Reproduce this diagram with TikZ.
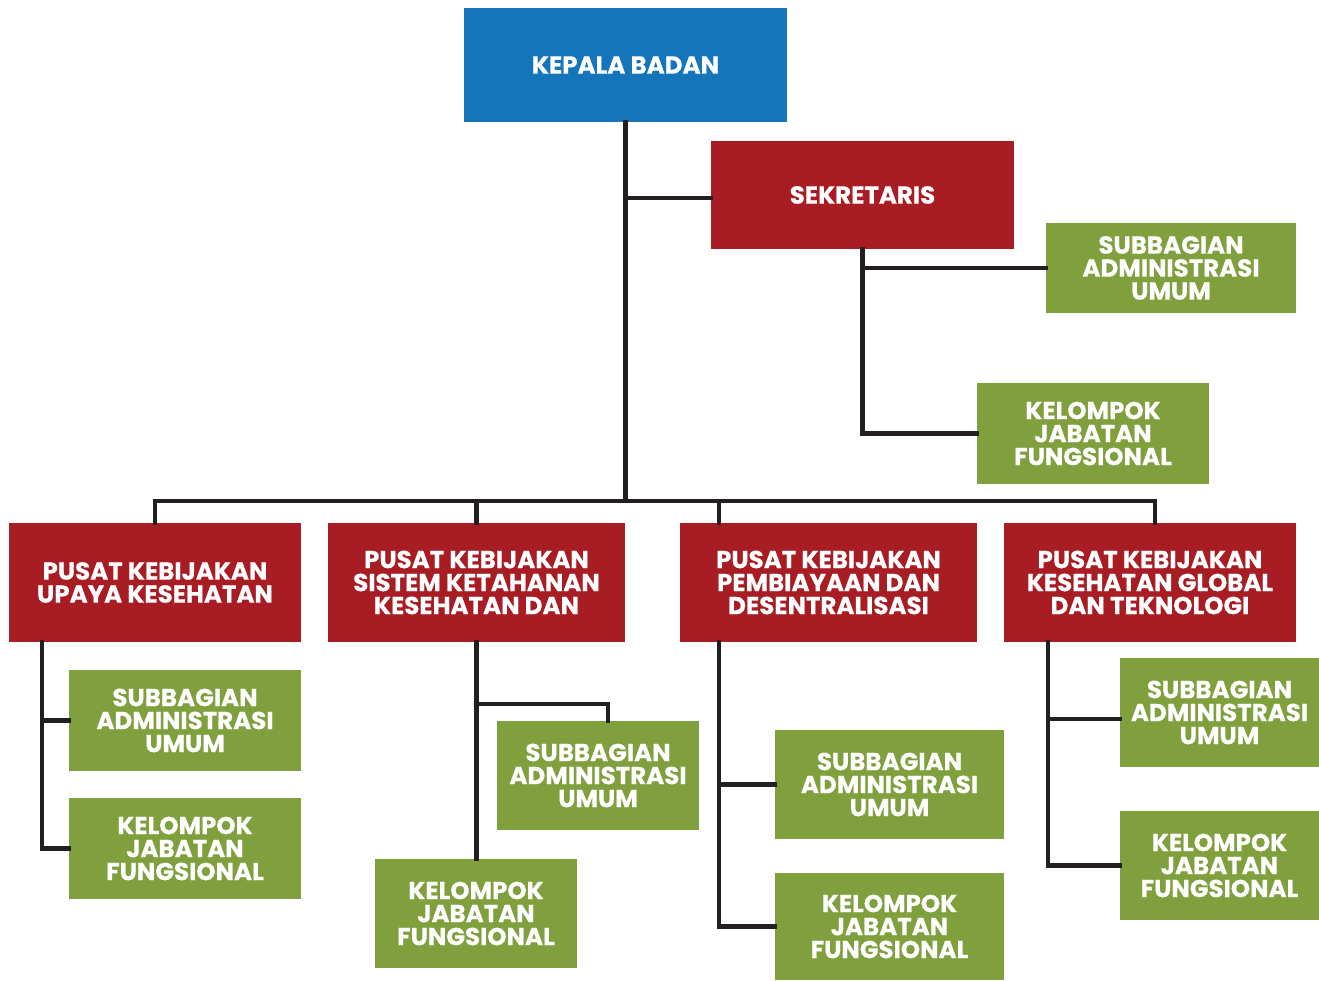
\documentclass[tikz,border=0pt]{standalone}
\usepackage{fontspec}
\setmainfont{Poppins}[BoldFeatures={FakeBold=0.5}]
\definecolor{kbblue}{HTML}{1475BB}
\definecolor{pred}{HTML}{A71D23}
\definecolor{pgreen}{HTML}{7FA03C}
\definecolor{linec}{HTML}{231F20}
\tikzset{
  box/.style={rectangle, inner sep=0pt, text=white, align=center,
    font=\fontsize{24.5}{23}\selectfont\bfseries},
  bluebox/.style={box, fill=kbblue},
  redbox/.style={box, fill=pred},
  greenbox/.style={box, fill=pgreen},
  conn/.style={draw=linec, line width=4.5pt, line join=miter, line cap=rect},
}
\begin{document}
\begin{tikzpicture}[x=1pt, y=-1pt]
\useasboundingbox (0,0) rectangle (1319,981);
\coordinate (bus) at (0,501);
\coordinate (c1) at (42,0);
\coordinate (c3) at (719,0);
\coordinate (c4) at (1048,0);
\coordinate (d4) at (1155,0);
\coordinate (b2) at (608,704);
\coordinate (h4) at (1048,719);
\coordinate (hs) at (0,198);
% nodes
\node[bluebox, minimum width=323pt, minimum height=114pt] (kb) at (625.5,65) {KEPALA BADAN};
\node[redbox, minimum width=303pt, minimum height=108pt] (sek) at (862.5,195) {SEKRETARIS};
\node[greenbox, minimum width=250pt, minimum height=90pt] (sa0) at (1171,268) {SUBBAGIAN\\ADMINISTRASI\\UMUM};
\node[greenbox, minimum width=232pt, minimum height=101pt] (kj0) at (1093,433.5) {KELOMPOK\\JABATAN\\FUNGSIONAL};
\node[redbox, minimum width=292pt, minimum height=119pt] (p1) at (155,582.5) {PUSAT KEBIJAKAN\\UPAYA KESEHATAN};
\node[redbox, minimum width=297pt, minimum height=119pt] (p2) at (476.5,582.5) {PUSAT KEBIJAKAN\\SISTEM KETAHANAN\\KESEHATAN DAN};
\node[redbox, minimum width=297pt, minimum height=119pt] (p3) at (828.5,582.5) {PUSAT KEBIJAKAN\\PEMBIAYAAN DAN\\DESENTRALISASI};
\node[redbox, minimum width=292pt, minimum height=119pt] (p4) at (1150,582.5) {PUSAT KEBIJAKAN\\KESEHATAN GLOBAL\\DAN TEKNOLOGI};
\node[greenbox, minimum width=232pt, minimum height=101pt] (sa1) at (185,720.5) {SUBBAGIAN\\ADMINISTRASI\\UMUM};
\node[greenbox, minimum width=232pt, minimum height=101pt] (kj1) at (185,848.5) {KELOMPOK\\JABATAN\\FUNGSIONAL};
\node[greenbox, minimum width=202pt, minimum height=109pt] (sa2) at (598,775.5) {SUBBAGIAN\\ADMINISTRASI\\UMUM};
\node[greenbox, minimum width=202pt, minimum height=109pt] (kj2) at (476,913.5) {KELOMPOK\\JABATAN\\FUNGSIONAL};
\node[greenbox, minimum width=229pt, minimum height=109pt] (sa3) at (889.5,784.5) {SUBBAGIAN\\ADMINISTRASI\\UMUM};
\node[greenbox, minimum width=229pt, minimum height=107pt] (kj3) at (889.5,926.5) {KELOMPOK\\JABATAN\\FUNGSIONAL};
\node[greenbox, minimum width=199pt, minimum height=109pt] (sa4) at (1219.5,712.5) {SUBBAGIAN\\ADMINISTRASI\\UMUM};
\node[greenbox, minimum width=199pt, minimum height=109pt] (kj4) at (1219.5,865.5) {KELOMPOK\\JABATAN\\FUNGSIONAL};
% connectors
\draw[conn] (kb.south) -- (kb.south |- bus);
\draw[conn] (kb.south |- hs) -- (sek.west |- hs);
\draw[conn] (p1.north) -- (p1.north |- bus) -- (d4 |- bus) -- (d4 |- p4.north);
\draw[conn] (p2.north |- bus) -- (p2.north);
\draw[conn] (c3 |- bus) -- (c3 |- p3.north);
\draw[conn] (sek.south) |- (kj0.west);
\draw[conn] (sek.south |- sa0.west) -- (sa0.west);
\draw[conn] (c1 |- p1.south) |- (kj1.west);
\draw[conn] (c1 |- sa1.west) -- (sa1.west);
\draw[conn] (p2.south) -- (p2.south |- kj2.north);
\draw[conn] (p2.south |- b2) -- (b2) -- (b2 |- sa2.north);
\draw[conn] (c3 |- p3.south) |- (kj3.west);
\draw[conn] (c3 |- sa3.west) -- (sa3.west);
\draw[conn] (c4 |- p4.south) |- (kj4.west);
\draw[conn] (h4) -- (h4 -| sa4.west);
\end{tikzpicture}
\end{document}
